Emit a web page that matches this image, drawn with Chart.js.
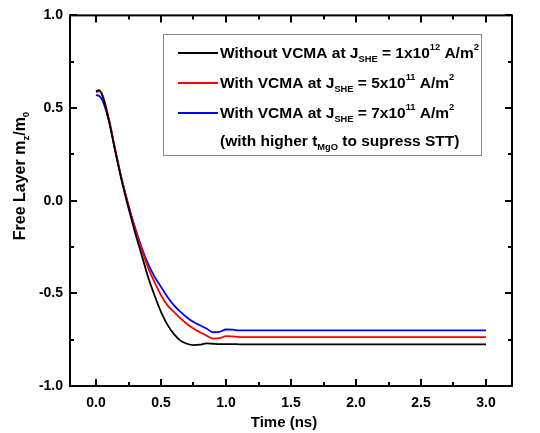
<!DOCTYPE html>
<html>
<head>
<meta charset="utf-8">
<script src="https://cdn.jsdelivr.net/npm/chart.js@4.4.0/dist/chart.umd.min.js"></script>
<style>
  html, body { margin: 0; padding: 0; background: #fff; }
  #wrap { width: 540px; height: 433px; }
</style>
</head>
<body>
<div id="wrap"><canvas id="myChart" width="540" height="433"></canvas></div>
<script>
// time grid (ns) shared by all three curves
const time = [0, 0.025, 0.05, 0.1, 0.15, 0.2, 0.25, 0.3, 0.35, 0.4, 0.45, 0.5, 0.55, 0.6, 0.65,
              0.7, 0.75, 0.8, 0.85, 0.9, 0.95, 1.0, 1.05, 1.1, 1.2, 1.5, 2.0, 2.5, 3.0];

// mz/m0 for each case
const noVcma = [0.59, 0.597, 0.565, 0.43, 0.26, 0.10, -0.04, -0.17, -0.29, -0.41, -0.51, -0.60, -0.67, -0.72, -0.755,
                -0.772, -0.779, -0.777, -0.770, -0.772, -0.774, -0.774, -0.774, -0.775, -0.775, -0.775, -0.775, -0.775, -0.775];
const vcma5 = [0.585, 0.592, 0.57, 0.44, 0.27, 0.11, -0.03, -0.15, -0.26, -0.36, -0.44, -0.51, -0.565, -0.60, -0.635,
               -0.665, -0.69, -0.71, -0.728, -0.744, -0.742, -0.731, -0.732, -0.736, -0.736, -0.736, -0.736, -0.736, -0.736];
const vcma7 = [0.57, 0.565, 0.54, 0.43, 0.265, 0.11, -0.025, -0.145, -0.25, -0.34, -0.41, -0.465, -0.52, -0.565, -0.60,
               -0.63, -0.655, -0.672, -0.69, -0.71, -0.708, -0.695, -0.696, -0.70, -0.70, -0.70, -0.70, -0.70, -0.70];

const xTicks = [0, 0.5, 1.0, 1.5, 2.0, 2.5, 3.0];
const yTicks = [-1.0, -0.5, 0.0, 0.5, 1.0];

// legend rows: pieces of [text, mode] where mode is '' / 'sub' / 'sup'
const legendRows = [
    [['Without VCMA at J', ''], ['SHE', 'sub'], [' = 1x10', ''], ['12', 'sup'], [' A/m', ''], ['2', 'sup']],
    [['With VCMA at J', ''], ['SHE', 'sub'], [' = 5x10', ''], ['11', 'sup'], [' A/m', ''], ['2', 'sup']],
    [['With VCMA at J', ''], ['SHE', 'sub'], [' = 7x10', ''], ['11', 'sup'], [' A/m', ''], ['2', 'sup']],
    [['(with higher t', ''], ['MgO', 'sub'], [' to supress STT)', '']]
];
const yTitle = [['Free Layer m', ''], ['z', 'sub'], ['/m', ''], ['0', 'sub']];
const xTitle = 'Time (ns)';

const FONT = '"Liberation Sans", Arial, sans-serif';

function toPoints(ys) {
    return time.map((t, i) => ({ x: t, y: ys[i] }));
}

// draws a run of text with sub/superscripts, returns end x
function drawRich(ctx, pieces, x, y, size) {
    pieces.forEach(p => {
        let s = size, dy = 0;
        if (p[1] === 'sub') { s = size * 0.6; dy = size * 0.35; }
        if (p[1] === 'sup') { s = size * 0.6; dy = -size * 0.45; }
        ctx.font = 'bold ' + s + 'px ' + FONT;
        ctx.fillText(p[0], x, y + dy);
        x += ctx.measureText(p[0]).width;
    });
    return x;
}

function richWidth(ctx, pieces, size) {
    let w = 0;
    pieces.forEach(p => {
        const s = p[1] ? size * 0.6 : size;
        ctx.font = 'bold ' + s + 'px ' + FONT;
        w += ctx.measureText(p[0]).width;
    });
    return w;
}

const framePlugin = {
    id: 'frame',
    afterDraw(chart) {
        const ctx = chart.ctx;
        const a = chart.chartArea;
        const xs = chart.scales.x, ys = chart.scales.y;
        ctx.save();
        ctx.strokeStyle = '#000';
        ctx.lineWidth = 2;
        ctx.strokeRect(a.left, a.top, a.right - a.left, a.bottom - a.top);

        // inward ticks on all four sides
        ctx.beginPath();
        for (let v = 0; v <= 3.0001; v += 0.25) {
            const px = Math.round(xs.getPixelForValue(v));
            const len = (Math.abs(v * 2 - Math.round(v * 2)) < 1e-6) ? 7 : 4;
            ctx.moveTo(px, a.bottom); ctx.lineTo(px, a.bottom - len);
            ctx.moveTo(px, a.top); ctx.lineTo(px, a.top + len);
        }
        for (let v = -1; v <= 1.0001; v += 0.25) {
            const py = Math.round(ys.getPixelForValue(v));
            const len = (Math.abs(v * 2 - Math.round(v * 2)) < 1e-6) ? 7 : 4;
            ctx.moveTo(a.left, py); ctx.lineTo(a.left + len, py);
            ctx.moveTo(a.right, py); ctx.lineTo(a.right - len, py);
        }
        ctx.stroke();

        // legend box
        const bx = 163, by = 34, bw = 318, bh = 121;
        ctx.fillStyle = '#fff';
        ctx.fillRect(bx, by, bw, bh);
        ctx.strokeStyle = '#8a8a8a';
        ctx.lineWidth = 1;
        ctx.strokeRect(bx + 0.5, by + 0.5, bw, bh);

        const rowY = [53, 83, 113, 141];
        ctx.textBaseline = 'middle';
        legendRows.forEach((row, i) => {
            const ds = chart.data.datasets[i];
            if (ds) {
                ctx.strokeStyle = ds.borderColor;
                ctx.lineWidth = 2;
                ctx.beginPath();
                ctx.moveTo(178, rowY[i]); ctx.lineTo(218, rowY[i]);
                ctx.stroke();
            }
            ctx.fillStyle = '#000';
            drawRich(ctx, row, 220, rowY[i] + 1, 15.5);
        });

        // x axis title
        ctx.font = 'bold 15px ' + FONT;
        ctx.textAlign = 'center';
        ctx.fillText(xTitle, 284, 423);
        ctx.textAlign = 'left';

        // y axis title
        ctx.translate(21, 176);
        ctx.rotate(-Math.PI / 2);
        const w = richWidth(ctx, yTitle, 16);
        drawRich(ctx, yTitle, -w / 2, 0, 16);
        ctx.restore();
    }
};

const ctx = document.getElementById('myChart').getContext('2d');
new Chart(ctx, {
    type: 'line',
    data: {
        datasets: [
            { label: 'Without VCMA', data: toPoints(noVcma), borderColor: '#000000' },
            { label: 'With VCMA 5e11', data: toPoints(vcma5), borderColor: '#ff0000' },
            { label: 'With VCMA 7e11', data: toPoints(vcma7), borderColor: '#0000ff' }
        ].map(d => Object.assign(d, { borderWidth: 1.8, pointRadius: 0, fill: false, cubicInterpolationMode: 'monotone' }))
    },
    options: {
        responsive: false,
        animation: false,
        layout: { padding: { left: 0, right: 28, top: 14, bottom: 0 } },
        plugins: { legend: { display: false }, tooltip: { enabled: false } },
        scales: {
            x: {
                type: 'linear', min: -0.2, max: 3.2,
                grid: { display: false, drawTicks: false },
                border: { display: false },
                afterBuildTicks: s => { s.ticks = xTicks.map(v => ({ value: v })); },
                afterFit: s => { s.height = 47; },
                ticks: { padding: 9, color: '#000', font: { family: FONT, size: 14, weight: 'bold' },
                         callback: v => v.toFixed(1) }
            },
            y: {
                min: -1.0, max: 1.0,
                grid: { display: false, drawTicks: false },
                border: { display: false },
                afterBuildTicks: s => { s.ticks = yTicks.map(v => ({ value: v })); },
                afterFit: s => { s.width = 70; },
                ticks: { padding: 7, color: '#000', font: { family: FONT, size: 14, weight: 'bold' },
                         callback: v => v.toFixed(1) }
            }
        }
    },
    plugins: [framePlugin]
});
</script>
</body>
</html>
